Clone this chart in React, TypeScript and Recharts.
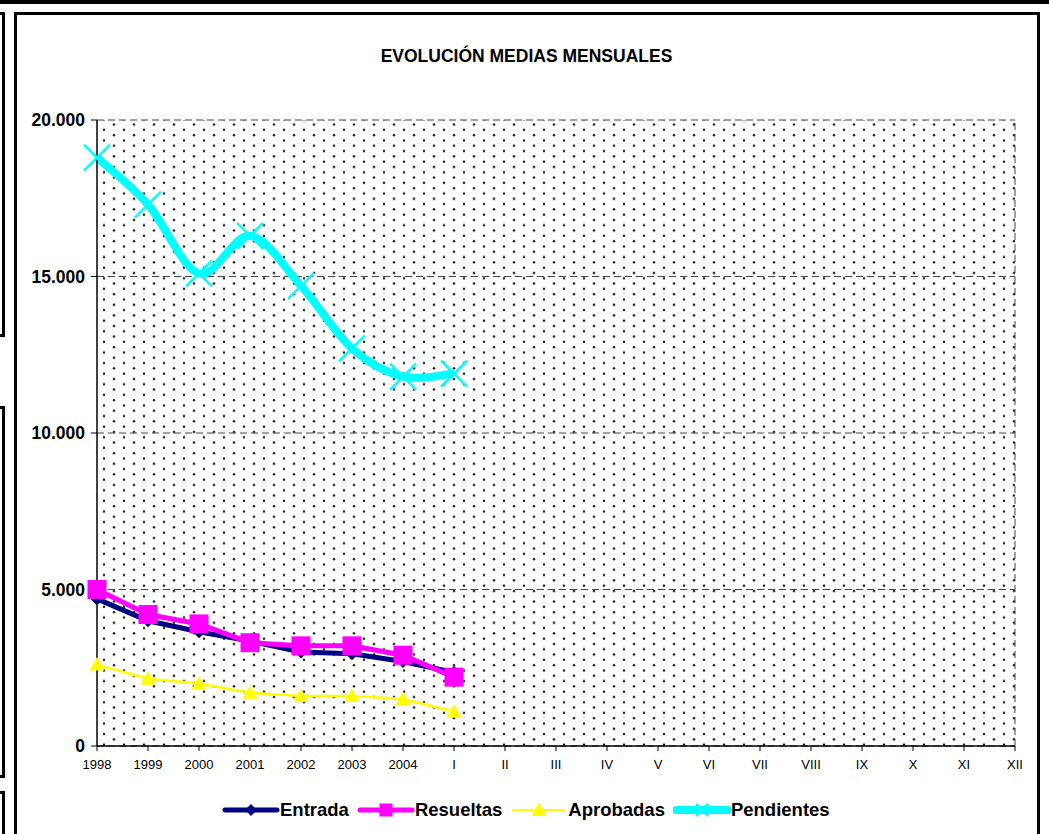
import React from 'react';
import {
  LineChart,
  Line,
  XAxis,
  YAxis,
  CartesianGrid,
  Legend,
  ReferenceLine,
} from 'recharts';

const categories = [
  '1998', '1999', '2000', '2001', '2002', '2003', '2004',
  'I', 'II', 'III', 'IV', 'V', 'VI', 'VII', 'VIII', 'IX', 'X', 'XI', 'XII',
];
const entrada = [4700, 4000, 3650, 3350, 3000, 2950, 2700, 2350];
const resueltas = [5000, 4200, 3900, 3300, 3200, 3200, 2900, 2200];
const aprobadas = [2600, 2150, 2000, 1700, 1600, 1600, 1500, 1100];
const pendientes = [18800, 17300, 15100, 16300, 14700, 12700, 11800, 11900];
const yTicks = [0, 5000, 10000, 15000, 20000];

const FONT = '"Liberation Sans", Arial, sans-serif';

const data = categories.map((c, i) => ({
  name: c,
  Entrada: entrada[i] ?? null,
  Resueltas: resueltas[i] ?? null,
  Aprobadas: aprobadas[i] ?? null,
  Pendientes: pendientes[i] ?? null,
}));

// excel-like smoothing (catmull-rom, tension 1/6)
const smoothCurve = (context: any) => {
  let pts: number[][] = [];
  return {
    areaStart() {},
    areaEnd() {},
    lineStart() {
      pts = [];
    },
    point(x: number, y: number) {
      pts.push([+x, +y]);
    },
    lineEnd() {
      const n = pts.length;
      if (!n) return;
      context.moveTo(pts[0][0], pts[0][1]);
      for (let i = 0; i < n - 1; i++) {
        const p0 = pts[Math.max(i - 1, 0)];
        const p1 = pts[i];
        const p2 = pts[i + 1];
        const p3 = pts[Math.min(i + 2, n - 1)];
        context.bezierCurveTo(
          p1[0] + (p2[0] - p0[0]) / 6,
          p1[1] + (p2[1] - p0[1]) / 6,
          p2[0] - (p3[0] - p1[0]) / 6,
          p2[1] - (p3[1] - p1[1]) / 6,
          p2[0],
          p2[1]
        );
      }
    },
  };
};

const ok = (p: any) => p && p.cx != null && p.cy != null && p.value != null && !isNaN(p.cy);

const diamond = (cx: number, cy: number, r: number, fill: string, key?: any) => (
  <path key={key} d={`M${cx},${cy - r}L${cx + r},${cy}L${cx},${cy + r}L${cx - r},${cy}Z`} fill={fill} />
);
const square = (cx: number, cy: number, s: number, fill: string, key?: any) => (
  <rect key={key} x={cx - s / 2} y={cy - s / 2} width={s} height={s} fill={fill} />
);
const triangle = (cx: number, cy: number, w: number, fill: string, key?: any) => (
  <path key={key} d={`M${cx},${cy - w * 0.5}L${cx + w / 2},${cy + w * 0.4}L${cx - w / 2},${cy + w * 0.4}Z`} fill={fill} />
);
const cross = (cx: number, cy: number, r: number, stroke: string, key?: any) => (
  <path
    key={key}
    d={`M${cx - r},${cy - r}L${cx + r},${cy + r}M${cx - r},${cy + r}L${cx + r},${cy - r}`}
    stroke={stroke}
    strokeWidth={2.5}
    fill="none"
  />
);

const DiamondDot = (p: any) => (ok(p) ? diamond(p.cx, p.cy, 6.5, '#000080', p.index) : <g key={p.index} />);
const SquareDot = (p: any) => (ok(p) ? square(p.cx, p.cy, 19, '#FF00FF', p.index) : <g key={p.index} />);
const TriangleDot = (p: any) => (ok(p) ? triangle(p.cx, p.cy, 15, '#FFFF00', p.index) : <g key={p.index} />);
const CrossDot = (p: any) => (ok(p) ? cross(p.cx, p.cy, 13, '#00FFFF', p.index) : <g key={p.index} />);

const legendItems = [
  { name: 'Entrada', color: '#000080', width: 5, mark: (x: number, y: number) => diamond(x, y, 6, '#000080') },
  { name: 'Resueltas', color: '#FF00FF', width: 5, mark: (x: number, y: number) => square(x, y, 13, '#FF00FF') },
  { name: 'Aprobadas', color: '#FFFF00', width: 2, mark: (x: number, y: number) => triangle(x, y, 15, '#FFFF00') },
  { name: 'Pendientes', color: '#00FFFF', width: 8, mark: (x: number, y: number) => cross(x, y, 6, '#00FFFF') },
];

const LegendBox = () => (
  <div style={{ display: 'flex', alignItems: 'center', height: 30, paddingLeft: 222 }}>
    {legendItems.map((it) => (
      <div key={it.name} style={{ display: 'flex', alignItems: 'center', marginRight: 8 }}>
        <svg width={58} height={24}>
          <line x1={3} y1={12} x2={55} y2={12} stroke={it.color} strokeWidth={it.width} strokeLinecap="round" />
          {it.mark(29, 12)}
        </svg>
        <span style={{ fontFamily: FONT, fontWeight: 'bold', fontSize: 18.5, color: '#000' }}>{it.name}</span>
      </div>
    ))}
  </div>
);

const fmt = (v: number) => v.toLocaleString('de-DE');

export default function App() {
  return (
    <div style={{ position: 'absolute', top: 0, left: 0, width: 1049, height: 834, overflow: 'hidden', background: '#fff' }}>
      {/* surrounding frames */}
      <div style={{ position: 'absolute', top: 0, left: 0, width: 1049, height: 4, background: '#000' }} />
      <div style={{ position: 'absolute', top: 12, left: -20, width: 25, height: 325, border: '3px solid #000', boxSizing: 'border-box' }} />
      <div style={{ position: 'absolute', top: 406, left: -20, width: 25, height: 372, border: '3px solid #000', boxSizing: 'border-box' }} />
      <div style={{ position: 'absolute', top: 791, left: -20, width: 25, height: 100, border: '3px solid #000', boxSizing: 'border-box' }} />
      <div style={{ position: 'absolute', top: 12, left: 14, width: 1026, height: 900, border: '3px solid #000', boxSizing: 'border-box' }} />
      <div
        style={{
          position: 'absolute',
          top: 46,
          left: 0,
          width: 1053,
          textAlign: 'center',
          fontFamily: FONT,
          fontWeight: 'bold',
          fontSize: 17.5,
        }}
      >
        EVOLUCIÓN MEDIAS MENSUALES
      </div>
      <div style={{ position: 'absolute', top: 0, left: 0 }}>
        <LineChart width={1049} height={834} data={data} margin={{ top: 120, right: 34, left: 0, bottom: 28 }}>
          <defs>
            <pattern id="dots" width="20" height="10.6" patternUnits="userSpaceOnUse">
              <circle cx="4" cy="2.6" r="1.25" fill="#1a1a1a" />
              <circle cx="14" cy="7.9" r="1.25" fill="#1a1a1a" />
            </pattern>
          </defs>
          <CartesianGrid
            vertical={false}
            fill="url(#dots)"
            stroke="#444"
            strokeDasharray="7 4"
          />
          <ReferenceLine x="XII" stroke="#444" strokeDasharray="7 4" />
          <XAxis
            dataKey="name"
            height={30}
            tickSize={5}
            tickMargin={9}
            stroke="#000"
            axisLine={{ stroke: '#000', strokeWidth: 1.5 }}
            tick={{ fill: '#000', fontSize: 13, fontFamily: FONT }}
            interval={0}
          />
          <YAxis
            width={97}
            domain={[0, 20000]}
            ticks={yTicks}
            tickFormatter={fmt}
            tickSize={6}
            tickMargin={6}
            stroke="#000"
            axisLine={{ stroke: '#000', strokeWidth: 1.5 }}
            tick={{ fill: '#000', fontSize: 17.5, fontWeight: 'bold', fontFamily: FONT }}
          />
          <Legend content={<LegendBox />} wrapperStyle={{ bottom: 9, left: 0, width: 1049 }} />
          <Line
            dataKey="Entrada"
            stroke="#000080"
            strokeWidth={5}
            type="linear"
            dot={DiamondDot}
            activeDot={false}
            isAnimationActive={false}
          />
          <Line
            dataKey="Resueltas"
            stroke="#FF00FF"
            strokeWidth={5}
            type="linear"
            dot={SquareDot}
            activeDot={false}
            isAnimationActive={false}
          />
          <Line
            dataKey="Aprobadas"
            stroke="#FFFF00"
            strokeWidth={2.5}
            type="linear"
            dot={TriangleDot}
            activeDot={false}
            isAnimationActive={false}
          />
          <Line
            dataKey="Pendientes"
            stroke="#00FFFF"
            strokeWidth={8}
            type={smoothCurve as any}
            dot={CrossDot}
            activeDot={false}
            isAnimationActive={false}
          />
        </LineChart>
      </div>
    </div>
  );
}
